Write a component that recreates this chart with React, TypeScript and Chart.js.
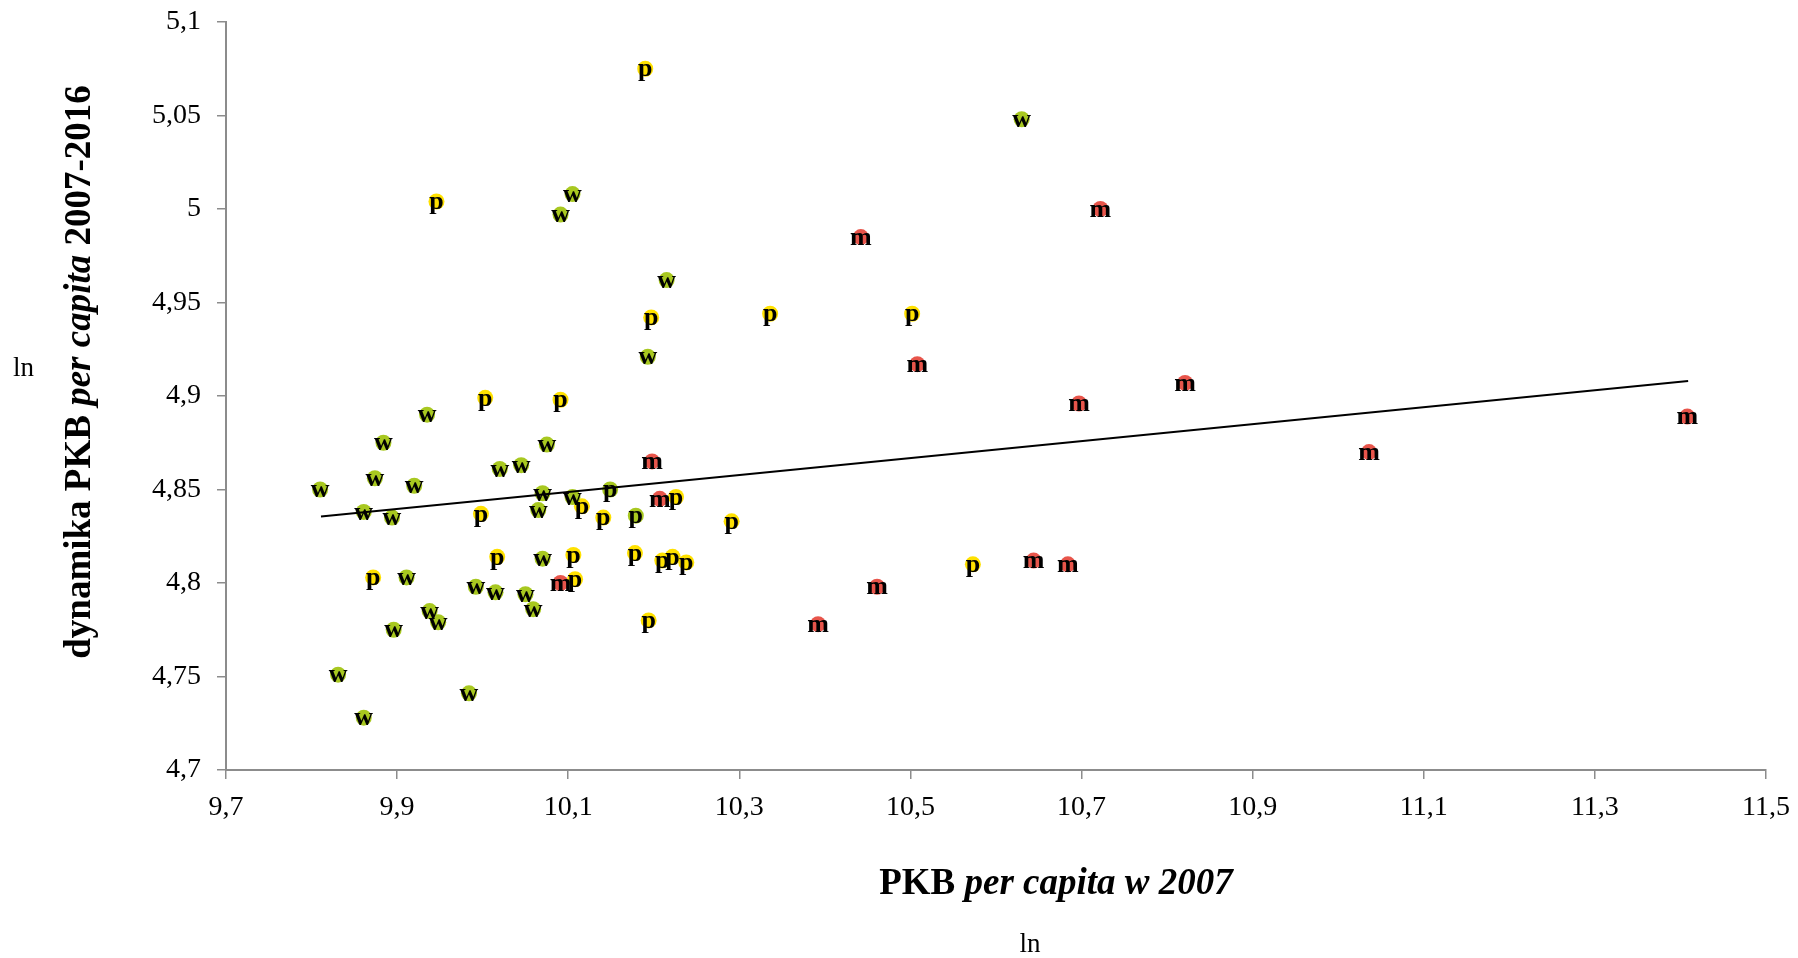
import React, { useEffect, useRef } from "react";
import { Chart, registerables } from "chart.js";

Chart.register(...registerables);

// ---- data (ln values) ----
const wX = [9.810, 9.884, 9.935, 10.075, 9.874, 9.920, 10.020, 10.045, 10.070, 10.105, 10.065, 9.861, 9.894, 10.070, 9.911, 9.992, 10.015, 10.050, 10.059, 9.938, 9.948, 9.896, 9.831, 9.984, 9.861, 10.630, 10.215, 10.193, 10.105, 10.091];
const wY = [4.850, 4.875, 4.890, 4.874, 4.856, 4.852, 4.861, 4.863, 4.848, 4.846, 4.839, 4.838, 4.835, 4.813, 4.803, 4.798, 4.795, 4.794, 4.786, 4.785, 4.779, 4.775, 4.751, 4.741, 4.728, 5.048, 4.962, 4.921, 5.008, 4.997];

const pX = [10.003, 10.091, 10.116, 10.226, 9.998, 10.141, 10.017, 10.106, 10.178, 10.210, 10.222, 10.238, 9.872, 10.108, 10.194, 10.190, 10.197, 10.336, 10.502, 9.946, 10.291, 10.573];
const pY = [4.899, 4.898, 4.841, 4.846, 4.837, 4.835, 4.814, 4.815, 4.816, 4.812, 4.814, 4.811, 4.803, 4.802, 4.780, 5.075, 4.942, 4.944, 4.944, 5.004, 4.833, 4.810];

const pgX = [10.149, 10.179];
const pgY = [4.850, 4.836];

const mX = [10.198, 10.207, 10.091, 10.722, 10.442, 10.508, 10.821, 10.697, 10.644, 10.684, 10.461, 10.392, 11.036, 11.408];
const mY = [4.865, 4.845, 4.800, 5.000, 4.985, 4.917, 4.907, 4.896, 4.812, 4.810, 4.798, 4.778, 4.870, 4.889];

const trendX = [9.811, 11.409];
const trendY = [4.8355, 4.908];

const xTicks = [9.7, 9.9, 10.1, 10.3, 10.5, 10.7, 10.9, 11.1, 11.3, 11.5];
const xTickLabels = ["9,7", "9,9", "10,1", "10,3", "10,5", "10,7", "10,9", "11,1", "11,3", "11,5"];
const yTicks = [4.7, 4.75, 4.8, 4.85, 4.9, 4.95, 5, 5.05, 5.1];
const yTickLabels = ["4,7", "4,75", "4,8", "4,85", "4,9", "4,95", "5", "5,05", "5,1"];

const FONT = "'Liberation Serif', 'Times New Roman', serif";
const AXIS_GRAY = "#8c8c8c";

const toPts = (xs: number[], ys: number[]) => xs.map((x, i) => ({ x, y: ys[i] }));

type Seg = { text: string; font: string };

function drawRich(ctx: CanvasRenderingContext2D, segs: Seg[], cx: number, baseY: number) {
  let total = 0;
  const widths = segs.map((s) => {
    ctx.font = s.font;
    const w = ctx.measureText(s.text).width;
    total += w;
    return w;
  });
  let x = cx - total / 2;
  ctx.textAlign = "left";
  ctx.textBaseline = "alphabetic";
  segs.forEach((s, i) => {
    ctx.font = s.font;
    ctx.fillText(s.text, x, baseY);
    x += widths[i];
  });
}

const labelsPlugin = {
  id: "letterLabels",
  afterDatasetsDraw(chart: any) {
    const ctx = chart.ctx as CanvasRenderingContext2D;
    ctx.save();
    ctx.font = `bold 26px ${FONT}`;
    ctx.fillStyle = "#000";
    ctx.textAlign = "center";
    ctx.textBaseline = "middle";
    chart.data.datasets.forEach((ds: any, di: number) => {
      if (!ds.letter) return;
      const meta = chart.getDatasetMeta(di);
      meta.data.forEach((el: any) => {
        ctx.fillText(ds.letter, el.x, el.y + 1);
      });
    });
    ctx.restore();
  },
};

const titlesPlugin = {
  id: "richTitles",
  afterDraw(chart: any) {
    const ctx = chart.ctx as CanvasRenderingContext2D;
    const bold = `bold 37px ${FONT}`;
    const boldItalic = `italic bold 37px ${FONT}`;
    ctx.save();
    ctx.fillStyle = "#000";
    // Y axis title (rotated)
    ctx.save();
    ctx.translate(90, 372);
    ctx.rotate(-Math.PI / 2);
    drawRich(ctx, [
      { text: "dynamika PKB ", font: bold },
      { text: "per capita", font: boldItalic },
      { text: " 2007-2016", font: bold },
    ], 0, 0);
    ctx.restore();
    // X axis title
    drawRich(ctx, [
      { text: "PKB ", font: bold },
      { text: "per capita w 2007", font: boldItalic },
    ], 1056, 894);
    // "ln" notes
    ctx.font = `27px ${FONT}`;
    ctx.textAlign = "center";
    ctx.textBaseline = "alphabetic";
    ctx.fillText("ln", 1030, 952);
    ctx.textAlign = "left";
    ctx.fillText("ln", 13, 376);
    ctx.restore();
  },
};

export default function App() {
  const ref = useRef<HTMLCanvasElement | null>(null);

  useEffect(() => {
    document.body.style.margin = "0";
    const canvas = ref.current;
    if (!canvas) return;

    const scatterBase = {
      type: "scatter" as const,
      pointRadius: 8,
      pointHoverRadius: 8,
      pointBorderWidth: 0,
      borderWidth: 0,
      showLine: false,
      order: 1,
    };

    const chart = new Chart(canvas, {
      type: "scatter",
      data: {
        datasets: [
          {
            type: "line",
            data: toPts(trendX, trendY),
            borderColor: "#000",
            borderWidth: 2,
            pointRadius: 0,
            fill: false,
            order: 0,
          } as any,
          { ...scatterBase, letter: "w", data: toPts(wX, wY), backgroundColor: "#a8c820", pointBackgroundColor: "#a8c820" } as any,
          { ...scatterBase, letter: "p", data: toPts(pX, pY), backgroundColor: "#ffe100", pointBackgroundColor: "#ffe100" } as any,
          { ...scatterBase, letter: "p", data: toPts(pgX, pgY), backgroundColor: "#a8c820", pointBackgroundColor: "#a8c820" } as any,
          { ...scatterBase, letter: "m", data: toPts(mX, mY), backgroundColor: "#e8554b", pointBackgroundColor: "#e8554b" } as any,
        ],
      },
      options: {
        responsive: false,
        animation: false,
        devicePixelRatio: 1,
        layout: { padding: { left: 0, right: 32, top: 22, bottom: 0 } },
        plugins: {
          legend: { display: false },
          tooltip: { enabled: false },
          title: { display: false },
        },
        scales: {
          x: {
            type: "linear",
            min: 9.7,
            max: 11.5,
            afterBuildTicks: (s: any) => {
              s.ticks = xTicks.map((v) => ({ value: v }));
            },
            afterFit: (s: any) => {
              s.height = 188;
              s.paddingLeft = 0;
              s.paddingRight = 0;
              s.paddingTop = 0;
              s.paddingBottom = 0;
            },
            ticks: {
              autoSkip: false,
              maxRotation: 0,
              padding: 12,
              color: "#000",
              font: { family: FONT, size: 28 },
              callback: (_v: any, i: number) => xTickLabels[i],
            },
            grid: {
              drawOnChartArea: false,
              drawTicks: true,
              tickLength: 9,
              color: AXIS_GRAY,
              lineWidth: 1.5,
            },
            border: { display: true, color: AXIS_GRAY, width: 2 },
          },
          y: {
            type: "linear",
            min: 4.7,
            max: 5.1,
            afterBuildTicks: (s: any) => {
              s.ticks = yTicks.map((v) => ({ value: v }));
            },
            afterFit: (s: any) => {
              s.width = 226;
              s.paddingLeft = 0;
              s.paddingRight = 0;
              s.paddingTop = 0;
              s.paddingBottom = 0;
            },
            ticks: {
              autoSkip: false,
              padding: 16,
              color: "#000",
              font: { family: FONT, size: 28 },
              callback: (_v: any, i: number) => yTickLabels[i],
            },
            grid: {
              drawOnChartArea: false,
              drawTicks: true,
              tickLength: 9,
              color: AXIS_GRAY,
              lineWidth: 1.5,
            },
            border: { display: true, color: AXIS_GRAY, width: 2 },
          },
        },
      },
      plugins: [labelsPlugin, titlesPlugin],
    } as any);

    return () => chart.destroy();
  }, []);

  return (
    <div style={{ width: 1798, height: 958, background: "#fff" }}>
      <canvas ref={ref} width={1798} height={958} style={{ display: "block" }} />
    </div>
  );
}
